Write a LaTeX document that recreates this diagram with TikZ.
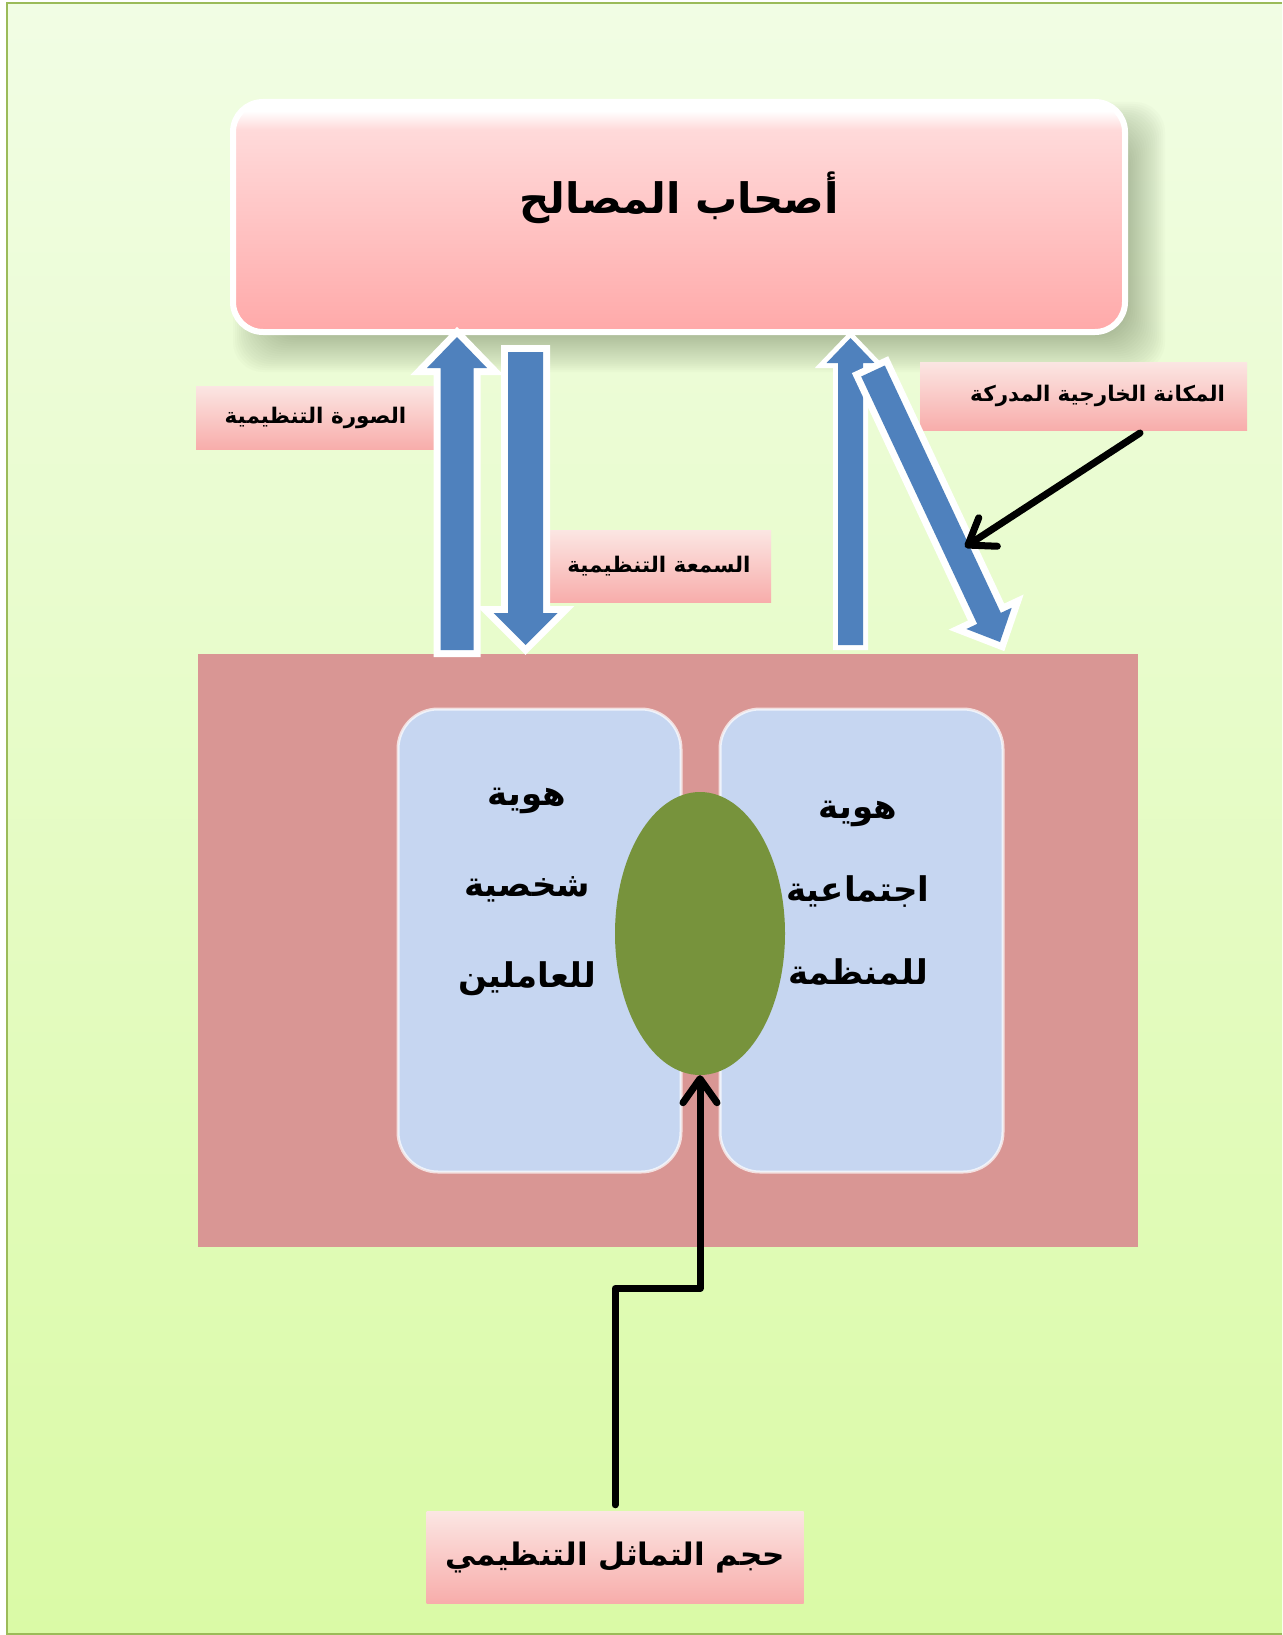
\documentclass[tikz,border=0pt]{standalone}
\usepackage{fontspec}
\newfontfamily\arabicfont[Script=Arabic]{DejaVu Sans}
\TeXXeTstate=1
\usetikzlibrary{shapes.geometric,arrows.meta,calc,shadings}

\definecolor{pageTop}{HTML}{F1FDE4}
\definecolor{pageBot}{HTML}{DAFAA6}
\definecolor{frameGreen}{HTML}{9BBB59}
\definecolor{pkT}{HTML}{FFDADA}
\definecolor{pkB}{HTML}{FFA9A9}
\definecolor{lblT}{HTML}{FBE6E3}
\definecolor{lblB}{HTML}{F8ADAB}
\definecolor{orgRed}{HTML}{D99694}
\definecolor{idBlue}{HTML}{C6D6F1}
\definecolor{overlapGreen}{HTML}{77933C}
\definecolor{arrowBlue}{HTML}{4F81BD}
\definecolor{shadowTone}{HTML}{5A6B4A}

\pgfdeclareverticalshading{stakeshade}{100bp}{color(0bp)=(pkB); color(25bp)=(pkB); color(69bp)=(pkT); color(73bp)=(white); color(100bp)=(white)}

\begin{document}
\begin{tikzpicture}[x=1pt,y=-1pt,
  stakebox/.style={draw=white, line width=6pt, rounded corners=30pt, shading=stakeshade,
    minimum width=892pt, minimum height=230pt, inner sep=0pt},
  tagbox/.style={top color=lblT, bottom color=lblB, inner sep=0pt,
    font=\arabicfont\bfseries\fontsize{21.5}{25}\selectfont},
  idbox/.style={fill=idBlue, draw=white, draw opacity=0.7, line width=3pt, rounded corners=40pt,
    minimum width=283pt, minimum height=463pt, inner sep=0pt},
  idtext/.style={align=center, inner sep=0pt},
  blockarrow/.style={fill=arrowBlue, preaction={draw=white, line width=14pt, line join=miter}},
  connector/.style={line width=7pt, line cap=round, line join=round,
    -{Straight Barb[length=24pt,width=34pt,line cap=round,line join=round]}}
]
\useasboundingbox (0,0) rectangle (1282,1635);

% page and its frame
\fill[white] (0,0) rectangle (1282,1635);
\fill[top color=pageTop, bottom color=pageBot] (7,3) rectangle (1282,1634);
\draw[frameGreen, line width=2pt] (1282,1634) -- (7,1634) -- (7,3) -- (1282,3);

% soft shadow under the stakeholders box
\foreach \k in {0,...,19}{
  \fill[shadowTone, opacity=0.025, rounded corners=30pt]
    ({233+20-20+2*\k},{102+20-20+2*\k}) rectangle ({1125+20+20-2*\k},{332+20+20-2*\k});
}

% stakeholders
\node[stakebox] (stake) at (679,217) {};
\node[font=\arabicfont\bfseries\fontsize{42}{46}\selectfont] (staketext) at (679,198) {\beginR أصحاب المصالح\endR};

% side labels
\node[tagbox, minimum width=239pt, minimum height=63pt] (image) at (315.5,417.5) {\beginR الصورة التنظيمية\endR};
\node[tagbox, minimum width=224pt, minimum height=72pt] (reput) at (659,566) {\beginR السمعة التنظيمية\endR};
\node[tagbox, minimum height=68pt, text width=283pt, align=right, inner xsep=22pt] (status) at (1083.5,396) {\beginR المكانة الخارجية المدركة\endR};

% organisation block
\node[fill=orgRed, minimum width=940pt, minimum height=593pt, inner sep=0pt] (org) at (668,950) {};
\node[idbox] (pid) at (539.5,940.5) {};
\node[idbox] (sid) at (861.5,940.5) {};
\node[idtext, font=\arabicfont\bfseries\fontsize{34}{91}\selectfont] (pidtext) at (527,892)
  {\beginR هوية\endR\\ \beginR شخصية\endR\\ \beginR للعاملين\endR};
\node[idtext, font=\arabicfont\bfseries\fontsize{34}{83}\selectfont] (sidtext) at (858,893)
  {\beginR هوية\endR\\ \beginR اجتماعية\endR\\ \beginR للمنظمة\endR};
\node[ellipse, fill=overlapGreen, minimum width=170pt, minimum height=283pt, inner sep=0pt] (overlap) at (700,933.5) {};

% block arrows between the organisation and its stakeholders
\path[blockarrow] (440.5,650) -- (440.5,368) -- (427,368) -- (457,337) -- (487,368) -- (473.5,368) -- (473.5,650) -- cycle;
\path[blockarrow] (508,352) -- (543,352) -- (543,613) -- (557.5,613) -- (525.5,645) -- (493.5,613) -- (508,613) -- cycle;
\path[fill=arrowBlue, preaction={draw=white, line width=10pt, line join=miter}]
  (838,645) -- (838,363) -- (826.5,363) -- (850.5,338) -- (874.5,363) -- (863,363) -- (863,645) -- cycle;
\path[blockarrow] (884.8,365.5) -- (1000.8,612.9) -- (1011.7,607.8) -- (1000,642) -- (966.4,629) -- (977.2,623.9) -- (861.2,376.5) -- cycle;

% pointer from the perceived external status label
\coordinate (statusfoot) at (1140,433);
\coordinate (statusarrow) at (965,547);
\draw[connector] (statusfoot) -- (statusarrow);

% identification size
\node[tagbox, minimum width=377pt, minimum height=92pt, font=\arabicfont\bfseries\fontsize{31}{36}\selectfont] (ident) at (615,1557) {\beginR حجم التماثل التنظيمي\endR};
\coordinate (bend) at (615,1288.5);
\draw[connector, shorten <=6pt] (ident.north) -- (bend) -| (overlap.south);
\end{tikzpicture}
\end{document}
